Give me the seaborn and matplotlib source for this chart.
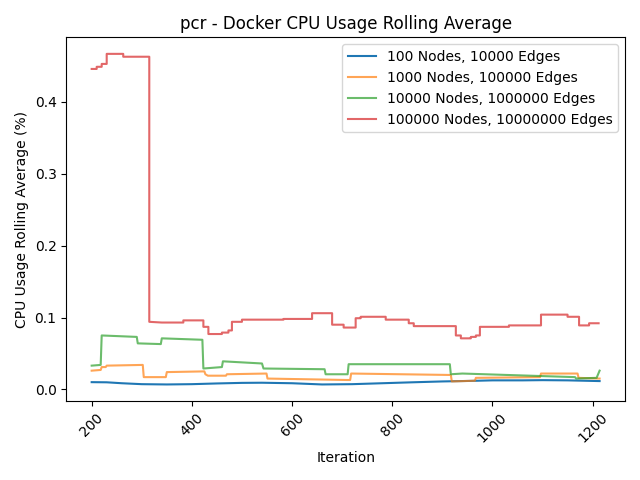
import matplotlib
matplotlib.use("Agg")
import matplotlib.pyplot as plt
import seaborn as sns
import pandas as pd

labels = ["100 Nodes, 10000 Edges", "1000 Nodes, 100000 Edges",
          "10000 Nodes, 1000000 Edges", "100000 Nodes, 10000000 Edges"]
colors = ["#1f77b4", "#ff7f0e", "#2ca02c", "#d62728"]
alphas = [1.0, 0.7, 0.7, 0.7]

blue_x = [200, 230, 260, 300, 350, 400, 450, 500, 540, 600, 660, 720, 780, 840, 900, 960, 1000, 1060, 1100, 1150, 1214]
blue_y = [0.0100, 0.0098, 0.0085, 0.0072, 0.0068, 0.0072, 0.0082, 0.0090, 0.0092, 0.0085, 0.0068, 0.0072,
          0.0085, 0.0098, 0.0110, 0.0118, 0.0125, 0.0125, 0.0128, 0.0125, 0.0115]

orange_x = [200, 218, 220, 228, 230, 302, 304, 348, 350, 425, 427, 432, 468, 470, 549, 551, 710, 716, 718,
            917, 919, 965, 967, 1095, 1097, 1170, 1172, 1214]
orange_y = [0.026, 0.027, 0.031, 0.031, 0.033, 0.034, 0.017, 0.017, 0.024, 0.025, 0.021, 0.019, 0.019, 0.021,
            0.022, 0.015, 0.013, 0.013, 0.022, 0.020, 0.011, 0.012, 0.016, 0.017, 0.022, 0.022, 0.016, 0.015]

green_x = [200, 218, 220, 290, 292, 338, 340, 421, 423, 460, 462, 540, 543, 665, 667, 711, 713, 915, 917,
           940, 1165, 1167, 1208, 1214]
green_y = [0.033, 0.034, 0.075, 0.073, 0.064, 0.063, 0.071, 0.069, 0.029, 0.031, 0.039, 0.036, 0.029, 0.028,
           0.021, 0.021, 0.035, 0.035, 0.021, 0.022, 0.017, 0.015, 0.016, 0.026]

red_x = [200, 210, 210, 220, 220, 230, 230, 263, 263, 315, 315, 340, 383, 383, 423, 423, 433, 433, 460, 460,
         473, 473, 480, 480, 500, 500, 583, 583, 640, 640, 680, 680, 703, 703, 727, 727, 737, 737, 787, 787,
         833, 833, 843, 843, 927, 927, 937, 937, 957, 957, 967, 967, 975, 975, 1033, 1033, 1097, 1097,
         1150, 1150, 1173, 1173, 1193, 1193, 1212]
red_y = [0.446, 0.446, 0.449, 0.449, 0.453, 0.453, 0.467, 0.467, 0.463, 0.463, 0.094, 0.093, 0.093, 0.096,
         0.096, 0.087, 0.087, 0.077, 0.077, 0.079, 0.079, 0.082, 0.082, 0.094, 0.094, 0.097, 0.097, 0.098,
         0.098, 0.106, 0.106, 0.090, 0.090, 0.086, 0.086, 0.099, 0.099, 0.101, 0.101, 0.097, 0.097, 0.092,
         0.092, 0.088, 0.088, 0.075, 0.075, 0.071, 0.071, 0.073, 0.073, 0.075, 0.075, 0.087, 0.087, 0.089,
         0.089, 0.104, 0.104, 0.101, 0.101, 0.089, 0.089, 0.092, 0.092]

series = [(blue_x, blue_y), (orange_x, orange_y), (green_x, green_y), (red_x, red_y)]

fig, ax = plt.subplots(figsize=(6.4, 4.8), dpi=100)
for (xs, ys), lab, col, a in zip(series, labels, colors, alphas):
    df = pd.DataFrame({"Iteration": xs, "value": ys})
    sns.lineplot(data=df, x="Iteration", y="value", ax=ax, color=col, alpha=a,
                 label=lab, sort=False, estimator=None, linewidth=1.5)

ax.set_title("pcr - Docker CPU Usage Rolling Average")
ax.set_xlabel("Iteration")
ax.set_ylabel("CPU Usage Rolling Average (%)")
ax.tick_params(axis="x", labelrotation=45)
ax.legend(loc="upper right")
fig.tight_layout()
fig.savefig("out.png", dpi=100)
